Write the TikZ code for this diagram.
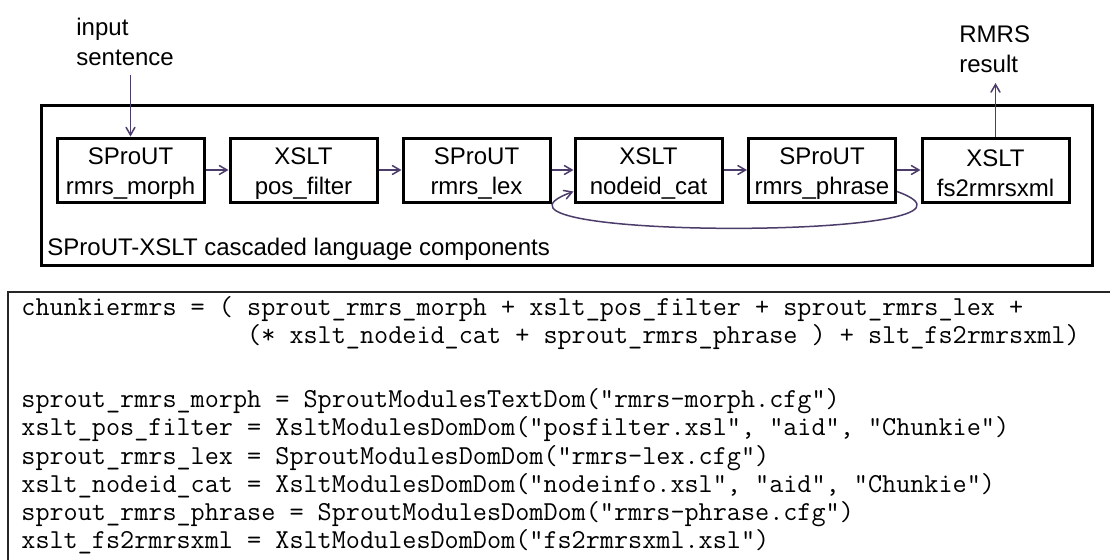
\documentclass[tikz,border=0pt]{standalone}
\usepackage{fontspec}
\setmainfont{Liberation Sans}
\usepackage{tikz}
\usetikzlibrary{arrows}
\definecolor{linkc}{RGB}{75,60,105}
\newcommand{\comptop}{\rule{0pt}{12pt}}
\tikzstyle{cascade}=[x=0.5pt, y=-0.5pt, font=\fontsize{12}{15}\selectfont]
\tikzstyle{comp}=[rectangle, draw, line width=1.5pt, minimum width=73.5pt, minimum height=32pt, inner sep=0pt, align=center]
\tikzstyle{frame}=[draw, line width=1.5pt]
\tikzstyle{codeframe}=[draw, line width=0.8pt, black!85]
\tikzstyle{io}=[anchor=north west, inner sep=0pt, align=left]
\tikzstyle{edge}=[->, >=angle 60, line width=0.75pt, draw=linkc]
\tikzstyle{code}=[anchor=north west, inner sep=0pt, align=left, font=\ttfamily\fontsize{13.7}{14.1}\selectfont]

\begin{document}
\begin{tikzpicture}[cascade]
	\useasboundingbox (0,0) rectangle (1110,559);
	% language components
	\draw[frame] (41.5,105.5) rectangle (1092.5,265.5);
	\draw (47,255) node[anchor=base west, inner sep=0pt] (cascadelbl) {SProUT-XSLT cascaded language components};
	\draw (130.5,170) node[comp] (morph) {\comptop SProUT\\rmrs\_morph};
	\draw (303.5,170) node[comp] (posf) {\comptop XSLT\\pos\_filter};
	\draw (476.5,170) node[comp] (lex) {\comptop SProUT\\rmrs\_lex};
	\draw (648.5,170) node[comp] (nodeid) {\comptop XSLT\\nodeid\_cat};
	\draw (822,170) node[comp] (phrase) {\comptop SProUT\\rmrs\_phrase};
	\draw (995.5,170) node[comp] (fsxml) {\comptop XSLT\\fs2rmrsxml};
	\draw (76,14) node[io] (insent) {\strut input\\sentence};
	\draw (959,21.5) node[io] (rmrsres) {\strut RMRS\\result};
	\coordinate (insrc) at (130.5,75);
	\coordinate (outdst) at (995.5,83);
	\draw[edge] (insrc) -- (morph.north);
	\draw[edge] (morph) -- (posf);
	\draw[edge] (posf) -- (lex);
	\draw[edge] (lex) -- (nodeid);
	\draw[edge] (nodeid) -- (phrase);
	\draw[edge] (phrase) -- (fsxml);
	\draw[edge] (phrase.-16) .. controls +(135,49) and +(-135,49) .. (nodeid.196);
	\draw[edge] (fsxml.north) -- (outdst);
	% configuration
	\draw[codeframe] (8,600) |- (1130,292);
	\draw (21,295.3) node[code] (cfg) {\strut chunkiermrs = ( sprout\_rmrs\_morph + xslt\_pos\_filter + sprout\_rmrs\_lex +\\
		\hphantom{chunkiermrs = ( }(* xslt\_nodeid\_cat + sprout\_rmrs\_phrase ) + slt\_fs2rmrsxml)\\[17.9pt]
		sprout\_rmrs\_morph = SproutModulesTextDom("rmrs-morph.cfg")\\
		xslt\_pos\_filter = XsltModulesDomDom("posfilter.xsl", "aid", "Chunkie")\\
		sprout\_rmrs\_lex = SproutModulesDomDom("rmrs-lex.cfg")\\
		xslt\_nodeid\_cat = XsltModulesDomDom("nodeinfo.xsl", "aid", "Chunkie")\\
		sprout\_rmrs\_phrase = SproutModulesDomDom("rmrs-phrase.cfg")\\
		xslt\_fs2rmrsxml = XsltModulesDomDom("fs2rmrsxml.xsl")};
\end{tikzpicture}
\end{document}
